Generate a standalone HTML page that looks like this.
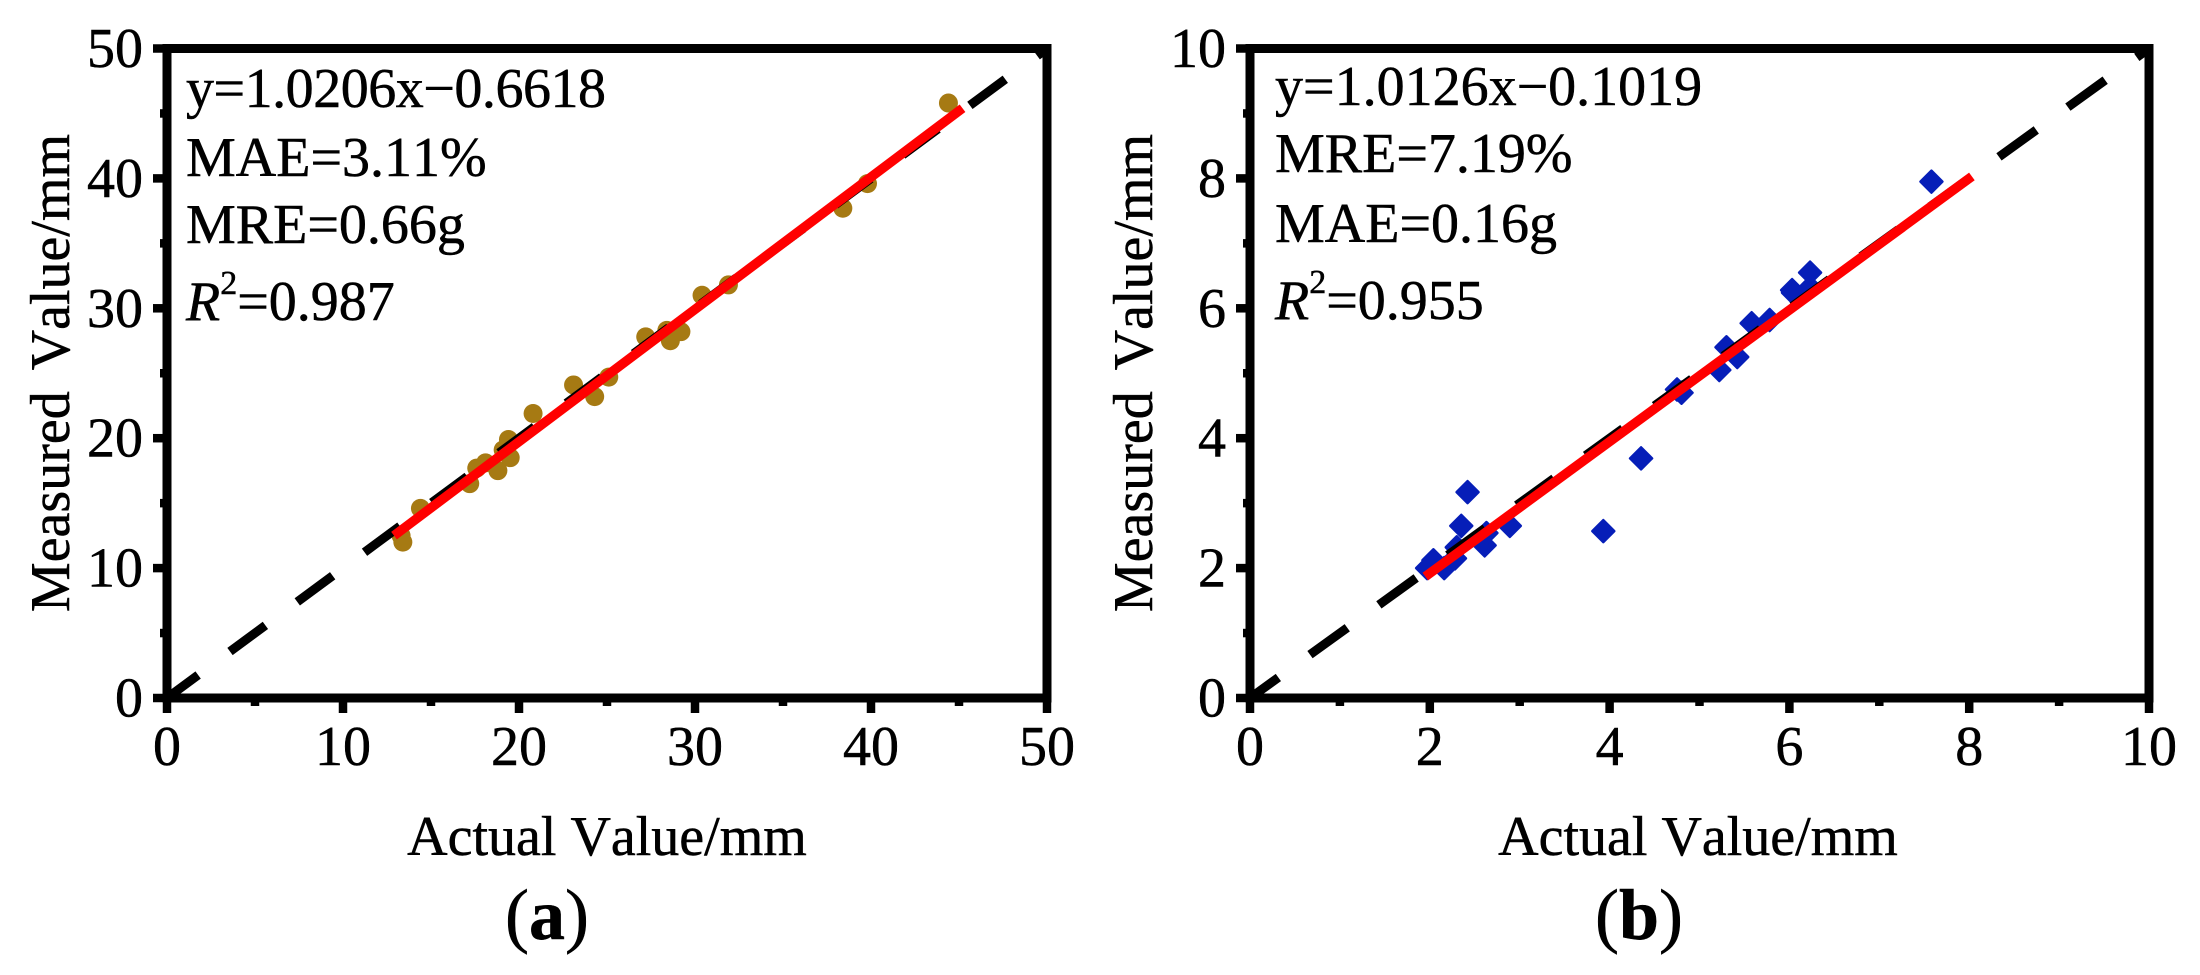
<!DOCTYPE html>
<html lang="en">
<head>
<meta charset="utf-8">
<title>Actual vs measured value scatter plots</title>
<style>
html,body{margin:0;padding:0;background:#fff;}
svg{display:block;font-family:"Liberation Serif","Times New Roman",serif;font-kerning:none;fill:#000;}
text{font-size:56px;stroke:#000;stroke-width:0.5px;}
</style>
</head>
<body>
<svg id="figure" xmlns="http://www.w3.org/2000/svg" width="2200" height="975" viewBox="0 0 2200 975">
  <rect x="0" y="0" width="2200" height="975" fill="#fff"/>
  <defs>
    <clipPath id="clip-a"><rect x="167" y="48" width="880" height="650"/></clipPath>
    <clipPath id="clip-b"><rect x="1250" y="48" width="899" height="650"/></clipPath>
  </defs>
  <g id="panel-a"></g>
  <g id="panel-b"></g>

  <g>
    <text x="186" y="107" textLength="420" lengthAdjust="spacing">y=1.0206x−0.6618</text>
    <text x="186" y="176">MAE=3.11%</text>
    <text x="186" y="243">MRE=0.66g</text>
    <text x="186" y="320"><tspan font-style="italic">R</tspan><tspan style="font-size:34px" dy="-26">2</tspan><tspan dy="26">=0.987</tspan></text>
  </g>
  <g>
    <text x="1275" y="105">y=1.0126x−0.1019</text>
    <text x="1275" y="172">MRE=7.19%</text>
    <text x="1275" y="242">MAE=0.16g</text>
    <text x="1275" y="319"><tspan font-style="italic">R</tspan><tspan style="font-size:34px" dy="-26">2</tspan><tspan dy="26">=0.955</tspan></text>
  </g>

  <text x="607" y="855" text-anchor="middle">Actual Value/mm</text>
  <text transform="translate(69,373) rotate(-90)" text-anchor="middle" word-spacing="7">Measured Value/mm</text>
  <text x="547" y="939" text-anchor="middle" style="font-size:72px">(<tspan font-weight="bold">a</tspan>)</text>

  <text x="1698" y="855" text-anchor="middle">Actual Value/mm</text>
  <text transform="translate(1152,373) rotate(-90)" text-anchor="middle" word-spacing="7">Measured Value/mm</text>
  <text x="1639" y="939" text-anchor="middle" style="font-size:72px">(<tspan font-weight="bold">b</tspan>)</text>
</svg>

<script>
const aActual = [13.4,13.3,14.4,17.2,17.6,18.1,18.8,19.4,19.1,19.5,20.8,23.1,24.3,25.1,27.2,28.6,29.2,28.4,30.4,31.9,38.4,39.8,44.4];
const aMeasured = [12.0,12.5,14.6,16.5,17.7,18.1,17.5,19.9,19.1,18.5,21.9,24.1,23.2,24.7,27.8,27.5,28.2,28.3,31.0,31.8,37.7,39.6,45.8];
const bActual = [1.97,2.04,2.16,2.28,2.30,2.35,2.42,2.61,2.63,2.89,3.93,4.35,4.75,4.80,5.22,5.30,5.42,5.58,5.78,6.03,6.04,6.23,6.23,7.58];
const bMeasured = [2.00,2.12,2.00,2.15,2.32,2.65,3.17,2.35,2.54,2.65,2.57,3.69,4.75,4.70,5.05,5.40,5.25,5.77,5.82,6.28,6.24,6.32,6.55,7.95];
const aFitX = [12.9,45.2];
const aFitY = [12.5,45.4];
const bFitX = [1.95,8.03];
const bFitY = [1.87,8.03];
const aRefLine = [0,50];
const bRefLine = [0,10];
const aMajorTicks = [0,10,20,30,40,50];
const aMinorTicks = [5,15,25,35,45];
const bMajorTicks = [0,2,4,6,8,10];
const bMinorTicks = [1,3,5,7,9];

const SVGNS = 'http://www.w3.org/2000/svg';
function make(parent, tag, attrs, text) {
  const node = document.createElementNS(SVGNS, tag);
  for (const k in attrs) node.setAttribute(k, attrs[k]);
  if (text !== undefined) node.textContent = text;
  parent.appendChild(node);
  return node;
}

function drawPanel(cfg) {
  const g = document.getElementById(cfg.id);
  const sx = v => cfg.left + (v - cfg.min) / (cfg.max - cfg.min) * (cfg.right - cfg.left);
  const sy = v => cfg.bottom - (v - cfg.min) / (cfg.max - cfg.min) * (cfg.bottom - cfg.top);

  cfg.xs.forEach((xv, i) => {
    const cx = sx(xv), cy = sy(cfg.ys[i]);
    let m;
    if (cfg.marker === 'circle') {
      m = make(g, 'circle', {cx: cx, cy: cy, r: 9.5, fill: '#a67a13'});
    } else {
      const r = 11;
      m = make(g, 'path', {
        d: 'M' + cx + ' ' + (cy - r) + 'L' + (cx + r) + ' ' + cy + 'L' + cx + ' ' + (cy + r) + 'L' + (cx - r) + ' ' + cy + 'Z',
        fill: '#061eb8', stroke: '#061eb8', 'stroke-width': 2.5, 'stroke-linejoin': 'round'
      });
    }
    
    
  });

  const ref = make(g, 'line', {
    x1: sx(cfg.ref[0]), y1: sy(cfg.ref[0]), x2: sx(cfg.ref[1]), y2: sy(cfg.ref[1]),
    stroke: '#000', 'stroke-width': 9, 'stroke-dasharray': cfg.dash, 'stroke-dashoffset': cfg.dashOffset,
    'clip-path': 'url(#' + cfg.clip + ')'
  });
  
  

  const fit = make(g, 'line', {
    x1: sx(cfg.fitX[0]), y1: sy(cfg.fitY[0]), x2: sx(cfg.fitX[1]), y2: sy(cfg.fitY[1]),
    stroke: '#ff0000', 'stroke-width': 9.5
  });
  
  

  const frame = make(g, 'rect', {
    x: cfg.left, y: cfg.top, width: cfg.right - cfg.left, height: cfg.bottom - cfg.top,
    fill: 'none', stroke: '#000', 'stroke-width': 9
  });
  
  

  cfg.major.forEach(v => {
    const xt = make(g, 'line', {x1: sx(v), y1: cfg.bottom, x2: sx(v), y2: cfg.bottom + 15, stroke: '#000', 'stroke-width': 8.5});
    
    
    const yt = make(g, 'line', {x1: cfg.left - 14, y1: sy(v), x2: cfg.left, y2: sy(v), stroke: '#000', 'stroke-width': 8.5});
    
    
    const xl = make(g, 'text', {x: sx(v), y: cfg.bottom + 67, 'text-anchor': 'middle'}, String(v));
    
    
    const yl = make(g, 'text', {x: cfg.left - 24, y: sy(v) + 18.5, 'text-anchor': 'end'}, String(v));
    
    
  });
  cfg.minor.forEach(v => {
    const xt = make(g, 'line', {x1: sx(v), y1: cfg.bottom, x2: sx(v), y2: cfg.bottom + 8, stroke: '#000', 'stroke-width': 8.5});
    
    
    const yt = make(g, 'line', {x1: cfg.left - 7, y1: sy(v), x2: cfg.left, y2: sy(v), stroke: '#000', 'stroke-width': 8.5});
    
    
  });
}

drawPanel({
  id: 'panel-a', clip: 'clip-a', marker: 'circle',
  left: 167, right: 1047, top: 48.5, bottom: 698,
  min: aRefLine[0], max: aRefLine[1],
  xs: aActual, ys: aMeasured, fitX: aFitX, fitY: aFitY, ref: aRefLine,
  major: aMajorTicks, minor: aMinorTicks,
  dash: '44 39.6', dashOffset: 5.3
});
drawPanel({
  id: 'panel-b', clip: 'clip-b', marker: 'diamond',
  left: 1250, right: 2149, top: 48.5, bottom: 698,
  min: bRefLine[0], max: bRefLine[1],
  xs: bActual, ys: bMeasured, fitX: bFitX, fitY: bFitY, ref: bRefLine,
  major: bMajorTicks, minor: bMinorTicks,
  dash: '46 39', dashOffset: 11
});
</script>
</body>
</html>
